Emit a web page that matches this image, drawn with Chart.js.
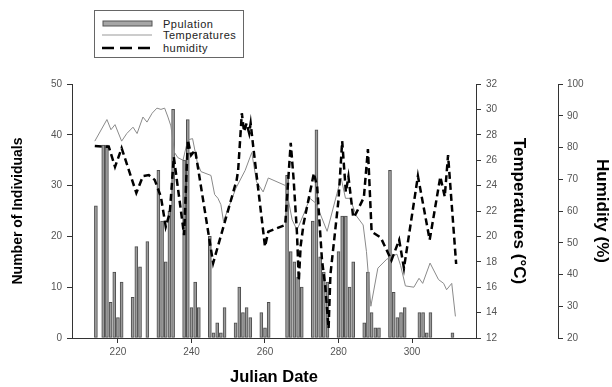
<!DOCTYPE html>
<html>
<head>
<meta charset="utf-8">
<script src="https://cdn.jsdelivr.net/npm/chart.js@4.4.1/dist/chart.umd.min.js"></script>
<style>
  html, body { margin: 0; padding: 0; background: #fff; }
  #wrap { position: relative; width: 612px; height: 387px; }
  #legend {
    position: absolute; left: 94px; top: 10px; width: 148px; height: 46px;
    border: 1px solid #666; background: #fff;
    font-family: "Liberation Sans", Arial, sans-serif; font-size: 11px; letter-spacing: 0.5px; color: #222;
  }
  #legend svg { position: absolute; left: 7px; }
  #legend span { position: absolute; left: 68px; line-height: 12px; }
</style>
</head>
<body>
<div id="wrap">
  <canvas id="chart" width="612" height="387"></canvas>
  <div id="legend">
    <svg style="top:9px" width="52" height="8"><rect x="1" y="1" width="49" height="5" fill="#a6a6a6" stroke="#555" stroke-width="1"/></svg>
    <span style="top:7px">Ppulation</span>
    <svg style="top:21px" width="52" height="6"><line x1="0" y1="3" x2="50" y2="3" stroke="#999" stroke-width="1"/></svg>
    <span style="top:18px">Temperatures</span>
    <svg style="top:34px" width="52" height="6"><line x1="0" y1="3" x2="50" y2="3" stroke="#000" stroke-width="2.5" stroke-dasharray="12 6"/></svg>
    <span style="top:31px">humidity</span>
  </div>
</div>
<script>
  // population counts per Julian day
  const popDays = [214, 216, 217, 218, 219, 220, 221, 224, 225, 226, 228, 231, 232, 233, 234, 235,
    238, 239, 240, 241, 242, 245, 246, 247, 248, 249, 252, 253, 254, 255, 256, 259, 260, 261,
    266, 267, 268, 269, 270, 273, 274, 275, 276, 277, 280, 281, 282, 283, 284, 287, 288, 289,
    290, 291, 294, 295, 296, 297, 298, 302, 303, 304, 305, 311];
  const popCounts = [26, 38, 38, 7, 13, 4, 11, 8, 18, 14, 19, 33, 23, 15, 25, 45,
    35, 43, 6, 11, 6, 20, 1, 3, 1, 6, 3, 10, 5, 6, 4, 5, 2, 7,
    32, 17, 15, 12, 10, 23, 41, 16, 13, 11, 17, 24, 24, 10, 15, 3, 13, 5,
    2, 2, 33, 9, 4, 5, 6, 5, 5, 1, 5, 1];

  // temperature (°C)
  const tempDays = [213.7, 217.0, 218.1, 219.2, 221.0, 222.4, 224.1, 225.2, 226.8, 227.9, 229.3, 230.6,
    231.7, 232.7, 233.6, 234.4, 235.4, 236.3, 237.7, 239.0, 240.3, 241.6, 242.6, 245.3, 246.3,
    247.2, 248.0, 248.7, 252.1, 254.6, 256.4, 257.7, 259.5, 260.9, 265.6, 267.4, 268.7, 270.6,
    272.2, 273.9, 276.9, 279.6, 280.7, 281.9, 283.1, 284.9, 286.7, 287.6, 288.8, 290.7, 293.1,
    295.1, 295.9, 296.9, 298.2, 300.5, 301.9, 302.9, 304.9, 307.2, 308.6, 309.4, 310.8, 311.8];
  const tempValues = [27.5, 29.2, 28.4, 28.8, 27.5, 28.1, 28.6, 28.1, 29.4, 29.0, 29.7, 30.1,
    30.0, 30.1, 29.4, 28.7, 26.6, 26.2, 26.0, 27.6, 27.7, 25.8, 25.1, 24.8, 23.3,
    23.0, 22.5, 21.2, 23.8, 25.2, 26.6, 24.3, 23.5, 24.6, 24.0, 21.3, 20.5, 21.8,
    23.0, 22.6, 20.4, 23.4, 24.6, 23.0, 23.0, 21.6, 20.9, 18.8, 14.5, 17.5, 18.2,
    18.5, 18.6, 17.7, 16.1, 16.0, 16.7, 16.3, 17.9, 16.6, 16.3, 15.8, 16.3, 13.7];

  // relative humidity (%)
  const humDays = [213.7, 216.7, 217.5, 219.2, 220.0, 221.0, 225.0, 226.8, 228.4, 230.0, 231.7, 233.0,
    234.1, 235.2, 238.0, 239.0, 239.9, 241.0, 245.9, 252.3, 252.7, 253.7, 254.3, 255.0, 255.7,
    256.1, 256.8, 260.0, 260.9, 265.5, 267.0, 267.8, 268.7, 269.2, 269.7, 270.5, 273.3, 274.2,
    275.5, 276.4, 277.3, 277.8, 280.0, 281.0, 282.0, 282.7, 284.0, 284.8, 286.9, 288.0, 289.0,
    291.5, 293.5, 294.4, 296.5, 297.8, 301.6, 304.8, 307.7, 308.9, 309.8, 312.0];
  const humValues = [80.5, 80.2, 80.3, 73.9, 76.5, 79.8, 65.7, 71.0, 71.3, 69.8, 64.4, 55.0,
    59.4, 77.0, 52.4, 82.4, 77.6, 79.2, 43.6, 69.8, 72.9, 90.8, 85.0, 87.6, 84.5,
    87.6, 80.3, 48.8, 53.5, 55.6, 81.5, 69.8, 53.0, 38.0, 49.0, 56.0, 71.9, 67.5,
    44.6, 36.2, 23.0, 40.0, 63.5, 82.0, 66.0, 70.8, 58.0, 59.3, 64.3, 79.5, 53.5,
    51.6, 46.7, 44.5, 50.9, 42.0, 71.0, 50.9, 70.8, 64.5, 77.6, 43.3];

  const dayTicks = [220, 240, 260, 280, 300];
  const countTicks = [0, 10, 20, 30, 40, 50];
  const tempTicks = [12, 14, 16, 18, 20, 22, 24, 26, 28, 30, 32];
  const humTicks = [20, 30, 40, 50, 60, 70, 80, 90, 100];

  function pairs(xs, ys) {
    return xs.map((x, i) => ({ x: x, y: ys[i] }));
  }

  function fixTicks(list) {
    return function (scale) {
      scale.ticks = list.map((v) => ({ value: v }));
    };
  }

  const FONT = "'Liberation Sans', Arial, sans-serif";
  const tickFont = { family: FONT, size: 10 };
  function titleFont(size) {
    return { family: FONT, size: size, weight: "bold" };
  }
  const axisGrid = { drawOnChartArea: false, drawTicks: true, tickLength: 5, color: "#333", offset: false };
  const axisBorder = { display: true, color: "#333", width: 1 };

  new Chart(document.getElementById("chart").getContext("2d"), {
    data: {
      datasets: [
        {
          type: "line",
          label: "humidity",
          data: pairs(humDays, humValues),
          yAxisID: "yH",
          borderColor: "#000",
          borderWidth: 2.5,
          borderDash: [7, 4],
          pointRadius: 0,
          tension: 0,
          fill: false,
          order: 1,
        },
        {
          type: "line",
          label: "Temperatures",
          data: pairs(tempDays, tempValues),
          yAxisID: "yT",
          borderColor: "#8a8a8a",
          borderWidth: 1,
          pointRadius: 0,
          tension: 0,
          fill: false,
          order: 2,
        },
        {
          type: "bar",
          label: "Ppulation",
          data: pairs(popDays, popCounts),
          yAxisID: "y",
          backgroundColor: "#9c9c9c",
          borderColor: "#4d4d4d",
          borderWidth: 1,
          borderSkipped: false,
          barThickness: 3,
          order: 3,
        },
      ],
    },
    options: {
      responsive: false,
      animation: false,
      layout: { padding: { top: 84, left: 0, right: 0, bottom: 0 } },
      plugins: { legend: { display: false }, tooltip: { enabled: false } },
      scales: {
        x: {
          type: "linear",
          position: "bottom",
          min: 207.5,
          max: 317.4,
          offset: false,
          grid: axisGrid,
          border: axisBorder,
          ticks: { color: "#555", font: tickFont, padding: 3, maxRotation: 0 },
          afterBuildTicks: fixTicks(dayTicks),
          afterFit: (s) => { s.height = 49; },
          title: { display: true, text: "Julian Date", color: "#000", font: titleFont(16.5), padding: { top: 0, bottom: 0 } },
        },
        y: {
          type: "linear",
          position: "left",
          min: 0,
          max: 50,
          grid: axisGrid,
          border: axisBorder,
          ticks: { color: "#555", font: tickFont, padding: 5 },
          afterBuildTicks: fixTicks(countTicks),
          afterFit: (s) => { s.width = 72; },
          title: { display: true, text: "Number of Individuals", color: "#000", font: titleFont(14), padding: { top: 9.6, bottom: 0 } },
        },
        yT: {
          type: "linear",
          position: "right",
          min: 12,
          max: 32,
          grid: axisGrid,
          border: axisBorder,
          ticks: { color: "#555", font: tickFont, padding: 5 },
          afterBuildTicks: fixTicks(tempTicks),
          afterFit: (s) => { s.width = 82; },
          title: { display: true, text: "Temperatures (°C)", color: "#000", font: titleFont(17), padding: { top: 28.8, bottom: 0 } },
        },
        yH: {
          type: "linear",
          position: "right",
          min: 20,
          max: 100,
          grid: axisGrid,
          border: axisBorder,
          ticks: { color: "#555", font: tickFont, padding: 4 },
          afterBuildTicks: fixTicks(humTicks),
          afterFit: (s) => { s.width = 54; },
          title: { display: true, text: "Humidity (%)", color: "#000", font: titleFont(17), padding: { top: 0, bottom: 0 } },
        },
      },
    },
  });
</script>
</body>
</html>
